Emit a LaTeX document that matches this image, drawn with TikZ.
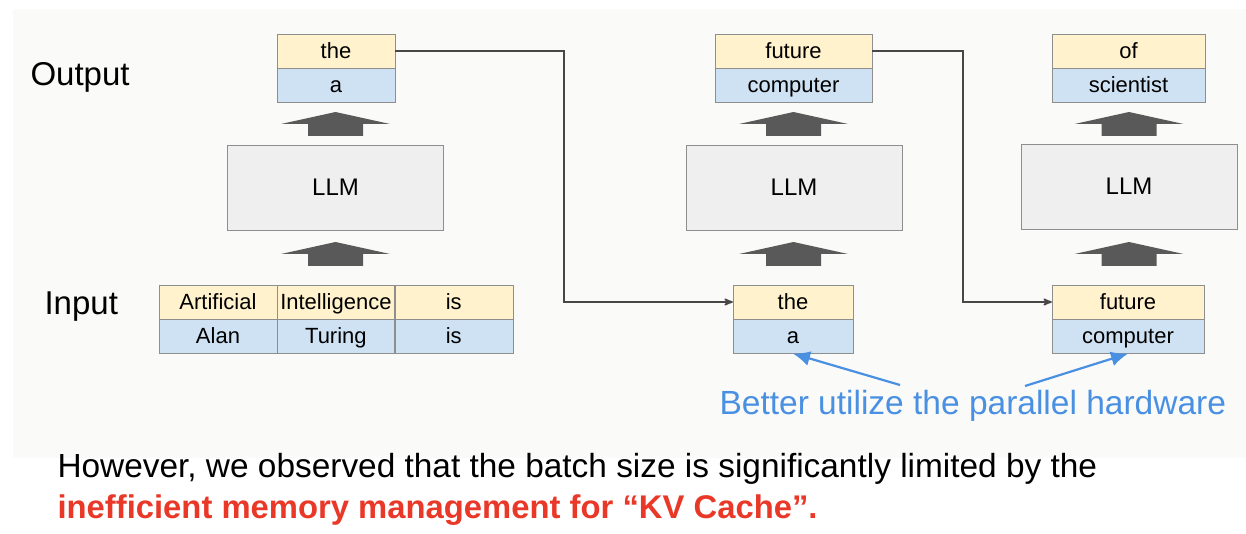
\documentclass[tikz,border=0pt]{standalone}
\usepackage{fontspec}
\setmainfont{Liberation Sans}
\usetikzlibrary{arrows, arrows.meta, positioning}
\usepackage{xcolor}
\definecolor{tokyellow}{HTML}{FFF2CC}
\definecolor{tokblue}{HTML}{CFE2F3}
\definecolor{llmgray}{HTML}{EFEFEF}
\definecolor{edgegray}{HTML}{8E8E8E}
\definecolor{fatgray}{HTML}{595959}
\definecolor{feedgray}{HTML}{474747}
\definecolor{hintblue}{RGB}{74,144,226}
\definecolor{alertred}{RGB}{234,56,40}
\definecolor{slidebg}{HTML}{FAFAF9}
% block arrow pointing up: #1 = x, #2 = y of the shaft bottom
\newcommand{\upblock}[2]{%
  \fill[fatgray] (#1-27.5,#2) -- (#1+27.5,#2) -- (#1+27.5,#2-12) -- (#1+54.5,#2-12)
    -- (#1,#2-24) -- (#1-54.5,#2-12) -- (#1-27.5,#2-12) -- cycle;}

\begin{document}
\begin{tikzpicture}[x=1pt, y=-1pt, >=stealth']
    \tikzstyle{cell} = [draw=edgegray, minimum height=34pt, inner sep=0pt, text height=16pt, text depth=1pt, font=\fontsize{22}{24}\selectfont]
    \tikzstyle{word} = [cell, fill=tokyellow]
    \tikzstyle{alt} = [cell, fill=tokblue]
    \tikzstyle{llm} = [draw=edgegray, fill=llmgray, minimum width=216pt, minimum height=85pt, text height=17pt, text depth=0pt, font=\fontsize{24}{26}\selectfont]
    \tikzstyle{feed} = [->, draw=feedgray, line width=1.8pt]
    \tikzstyle{hint} = [-{Latex[length=17pt, width=15pt]}, draw=hintblue, line width=2.2pt]
    \useasboundingbox (0,0) rectangle (1246,534);
    \fill[slidebg] (13,9) rectangle (1246,458);

    \node [anchor=base west, font=\fontsize{33}{35}\selectfont] at (27,86) (outlabel) {Output};
    \node [anchor=base west, font=\fontsize{33}{35}\selectfont] at (41,314) (inlabel) {Input};

    % first step
    \node [word, minimum width=118pt] at (336,51) (o1t) {the};
    \node [alt, minimum width=118pt, below=0pt of o1t] (o1b) {a};
    \node [llm] at (335.5,187.5) (llm1) {LLM};
    \node [word, minimum width=118pt] at (218,302) (i1a) {Artificial};
    \node [word, minimum width=117pt, right=0pt of i1a] (i1b) {Intelligence};
    \node [word, minimum width=118pt, right=0pt of i1b] (i1c) {is};
    \node [alt, minimum width=118pt, below=0pt of i1a] (i1d) {Alan};
    \node [alt, minimum width=117pt, below=0pt of i1b] (i1e) {Turing};
    \node [alt, minimum width=118pt, below=0pt of i1c] (i1f) {is};

    % second step
    \node [word, minimum width=157pt] at (793.5,51) (o2t) {future};
    \node [alt, minimum width=157pt, below=0pt of o2t] (o2b) {computer};
    \node [llm] at (794,187.5) (llm2) {LLM};
    \node [word, minimum width=120pt] at (793,302) (i2t) {the};
    \node [alt, minimum width=120pt, below=0pt of i2t] (i2b) {a};

    % third step
    \node [word, minimum width=153pt] at (1128.5,51) (o3t) {of};
    \node [alt, minimum width=153pt, below=0pt of o3t] (o3b) {scientist};
    \node [llm] at (1129,186.5) (llm3) {LLM};
    \node [word, minimum width=152pt] at (1128,302) (i3t) {future};
    \node [alt, minimum width=152pt, below=0pt of i3t] (i3b) {computer};

    \upblock{335.5}{136}
    \upblock{335.5}{266}
    \upblock{793.5}{136}
    \upblock{793.5}{266}
    \upblock{1129}{136}
    \upblock{1129}{266}

    \draw[feed] (o1t.east) -- ++(169,0) |- (i2t.west);
    \draw[feed] (o2t.east) -- ++(91,0) |- (i3t.west);

    \node [anchor=base west, text=hintblue, font=\fontsize{33.5}{35}\selectfont] at (716,414) (hint) {Better utilize the parallel hardware};
    \coordinate (h1) at (900,385);
    \coordinate (h2) at (1025,386);
    \draw[hint] (h1) -- (i2b.south);
    \draw[hint] (h2) -- (i3b.south);

    \node [anchor=base west, font=\fontsize{33.4}{35}\selectfont] at (54,477) (remark) {However, we observed that the batch size is significantly limited by the};
    \node [anchor=base west, text=alertred, font=\bfseries\fontsize{32.8}{35}\selectfont] at (54,518) (alert) {inefficient memory management for “KV Cache”.};
\end{tikzpicture}
\end{document}
